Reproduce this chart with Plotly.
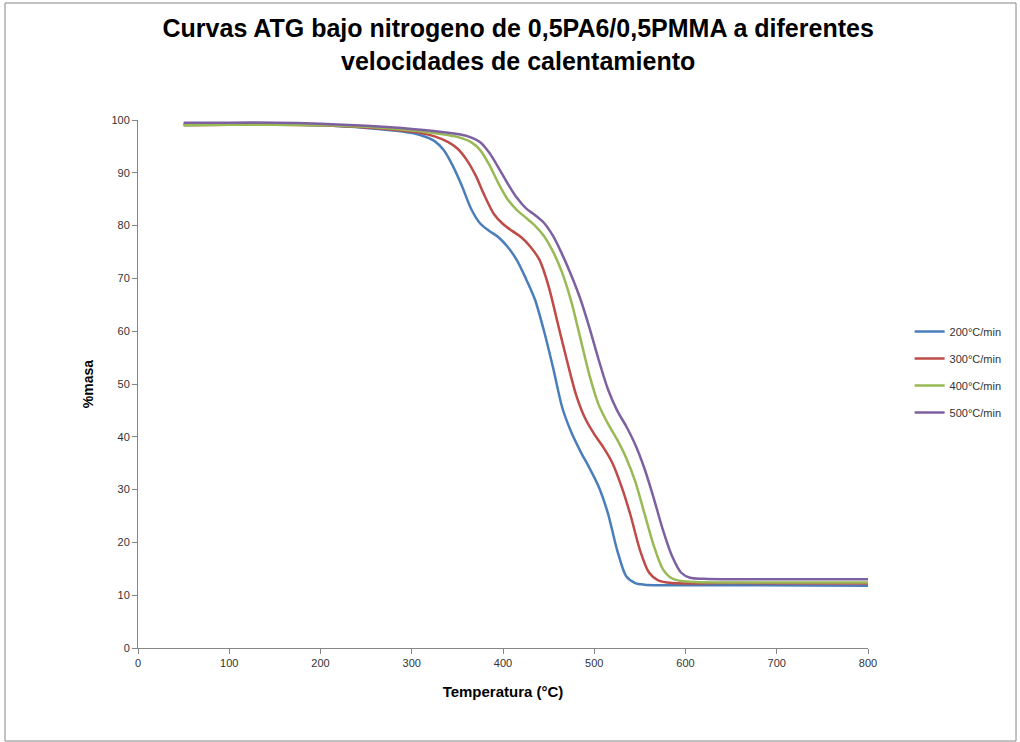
import plotly.graph_objects as go

# ---- data ----
series_names = ["200°C/min", "300°C/min", "400°C/min", "500°C/min"]

t_200 = [50, 100, 150, 200, 250, 290, 310, 325, 335, 345, 355, 365, 375, 385, 395, 405, 415, 425,
         435, 445, 455, 465, 475, 485, 495, 505, 515, 525, 535, 545, 555, 575, 650, 800]
m_200 = [99.2, 99.3, 99.2, 99.0, 98.5, 97.8, 97.1, 96.0, 94.3, 91.3, 87.5, 83.2, 80.4, 79.0, 77.8, 76.0, 73.5, 70.0,
         66.0, 60.0, 53.0, 45.5, 40.8, 37.2, 34.0, 30.5, 25.5, 18.6, 13.6, 12.3, 12.0, 11.9, 11.9, 11.8]

t_300 = [50, 100, 150, 200, 250, 300, 325, 340, 350, 360, 370, 380, 390, 400, 410, 420, 430, 440,
         450, 460, 470, 480, 490, 500, 510, 520, 530, 540, 550, 560, 570, 585, 650, 800]
m_300 = [99.0, 99.1, 99.1, 99.0, 98.6, 97.8, 96.9, 95.8, 94.6, 92.5, 89.5, 85.6, 82.2, 80.3, 79.0, 77.8, 76.0, 73.5,
         68.5, 61.5, 54.5, 48.0, 43.5, 40.5, 38.0, 35.0, 30.5, 25.0, 18.6, 14.3, 12.8, 12.3, 12.3, 12.2]

t_400 = [50, 100, 150, 200, 250, 300, 330, 350, 365, 375, 385, 395, 405, 415, 425, 435, 445, 455,
         465, 475, 485, 495, 505, 515, 525, 535, 545, 555, 565, 575, 585, 595, 610, 650, 800]
m_400 = [99.0, 99.1, 99.1, 99.0, 98.7, 98.0, 97.4, 96.8, 95.8, 94.3, 91.5, 88.0, 85.0, 83.0, 81.5, 80.0, 78.0, 75.0,
         71.0, 65.5, 58.5, 51.5, 46.0, 42.5, 39.5, 36.0, 31.5, 25.5, 19.5, 15.0, 13.2, 12.7, 12.5, 12.4, 12.4]

t_500 = [50, 100, 150, 200, 250, 300, 340, 360, 375, 385, 395, 405, 415, 425, 435, 445, 455, 465,
         475, 485, 495, 505, 515, 525, 535, 545, 555, 565, 575, 585, 595, 605, 620, 650, 800]
m_500 = [99.5, 99.5, 99.5, 99.3, 98.9, 98.3, 97.6, 97.0, 95.8, 93.8, 91.0, 88.0, 85.3, 83.3, 82.0, 80.5, 78.0, 74.5,
         70.5, 66.0, 60.5, 54.5, 49.0, 45.0, 42.0, 38.5, 34.0, 28.5, 22.5, 17.5, 14.3, 13.3, 13.1, 13.0, 13.0]

x_ticks = [0, 100, 200, 300, 400, 500, 600, 700, 800]
y_ticks = [0, 10, 20, 30, 40, 50, 60, 70, 80, 90, 100]

colors = ["#4A7EBB", "#BE4B48", "#98B954", "#7D60A0"]

fig = go.Figure()
for name, tx, my, c in zip(series_names, [t_200, t_300, t_400, t_500],
                           [m_200, m_300, m_400, m_500], colors):
    fig.add_trace(go.Scatter(x=tx, y=my, mode="lines", name=name, legendgroup=name,
                             line=dict(color=c, width=2.5, shape="spline", smoothing=0.8)))

axis_font = dict(family="Liberation Sans, Arial, sans-serif", size=11, color="#333333")

fig.update_layout(
    width=1020, height=742,
    margin=dict(l=138, r=152, t=120, b=94),
    paper_bgcolor="white", plot_bgcolor="white",
    title=dict(text="<b>Curvas ATG bajo nitrogeno de 0,5PA6/0,5PMMA a diferentes<br>velocidades de calentamiento</b>",
               x=0.508, xanchor="center", y=0.95, yanchor="top",
               font=dict(family="Liberation Sans, Arial, sans-serif", size=25, color="black")),
    xaxis=dict(range=[0, 800], tickvals=x_ticks, showgrid=False, zeroline=False,
               showline=True, linecolor="#868686", linewidth=1,
               ticks="outside", ticklen=5, tickcolor="#868686", tickfont=axis_font,
               title=dict(text="<b>Temperatura (°C)</b>", standoff=18,
                          font=dict(family="Liberation Sans, Arial, sans-serif", size=15, color="black"))),
    yaxis=dict(range=[0, 100], tickvals=y_ticks, showgrid=False, zeroline=False,
               showline=True, linecolor="#868686", linewidth=1,
               ticks="outside", ticklen=5, tickcolor="#868686", tickfont=axis_font,
               title=dict(text="<b>%masa</b>", standoff=14,
                          font=dict(family="Liberation Sans, Arial, sans-serif", size=14, color="black"))),
    legend=dict(x=1.057, y=0.627, xanchor="left", yanchor="top", traceorder="grouped",
                tracegroupgap=8, itemwidth=30,
                font=dict(family="Liberation Sans, Arial, sans-serif", size=11, color="#333333"),
                bgcolor="rgba(0,0,0,0)"),
    shapes=[dict(type="rect", xref="paper", yref="paper",
                 x0=(5 - 138) / 730, x1=(1016 - 138) / 730,
                 y0=(648 - 741) / 528, y1=(648 - 3) / 528,
                 line=dict(color="#868686", width=1), fillcolor="rgba(0,0,0,0)", layer="below")],
)

fig.write_html("out.html")
